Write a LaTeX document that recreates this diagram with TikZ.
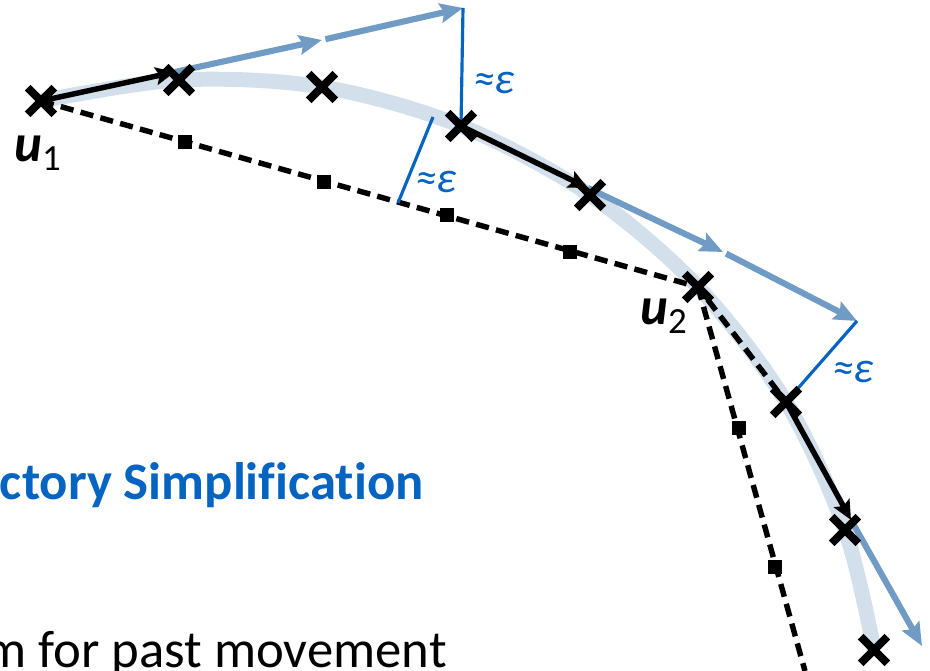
\documentclass[tikz,border=0pt]{standalone}
\usepackage{fontspec}
\setmainfont{Carlito}[Ligatures=NoCommon]
\usetikzlibrary{arrows.meta,shapes.misc}
\definecolor{trackblue}{RGB}{211,223,235}
\definecolor{predblue}{RGB}{112,155,196}
\definecolor{epsblue}{RGB}{5,99,193}
\newcommand{\ptlab}[1]{{\bfseries\itshape u}\textsubscript{#1}}
\tikzset{
  track/.style={draw=trackblue,line width=8.5pt,line cap=butt},
  pt/.style={cross out,draw=black,line width=4.6pt,minimum size=10.5pt,inner sep=0pt},
  sq/.style={rectangle,fill=black,minimum size=8.5pt,inner sep=0pt},
  simp/.style={black,line width=3.1pt,dash pattern=on 7.5pt off 4.2pt},
  move/.style={-{Stealth[length=11pt,width=10pt,inset=2pt]},black,line width=3.1pt},
  pred/.style={-{Stealth[length=13pt,width=11pt,inset=2pt]},predblue,line width=3.5pt},
  dev/.style={epsblue,line width=1.8pt},
  epslbl/.style={text=epsblue,font=\fontsize{25}{30}\selectfont\itshape,inner sep=0pt},
  ulbl/.style={font=\fontsize{30}{32}\selectfont,inner sep=0pt},
  ttl/.style={text=epsblue,font=\fontsize{30}{36}\selectfont\bfseries,inner sep=0pt},
  txt/.style={text=black,font=\fontsize{30}{36}\selectfont,inner sep=0pt},
}
\begin{document}
\begin{tikzpicture}[x=0.02cm,y=-0.02cm]
  \useasboundingbox (0,0) rectangle (930,671);
  % trajectory points
  \coordinate (p1) at (41,101);
  \coordinate (p2) at (179,80);
  \coordinate (p3) at (322,87);
  \coordinate (p4) at (461,126);
  \coordinate (p5) at (590,195);
  \coordinate (p6) at (698,287);
  \coordinate (p7) at (786,402);
  \coordinate (p8) at (845,530);
  \coordinate (p9) at (874,650);
  % predicted positions
  \coordinate (q2) at (175,72);
  \coordinate (a1) at (322,40);
  \coordinate (a2) at (463,8);
  \coordinate (q5) at (588,188);
  \coordinate (b1) at (723,252);
  \coordinate (b2) at (857,321);
  \coordinate (q8) at (851,520);
  \coordinate (c1) at (922,646);
  % simplified line
  \coordinate (d1) at (805,671);
  \coordinate (f1) at (398,203);
  \coordinate (f2) at (433,117);

  \draw[track] plot[smooth,tension=0.55] coordinates {(p1) (p2) (p3) (p4) (p5) (p6) (p7) (p8) (p9)};

  \draw[simp] (p1) -- (p6) -- (p7);
  \draw[simp] (p6) -- (d1);
  \node[sq] (s1) at (185,142) {};
  \node[sq] (s2) at (324,182) {};
  \node[sq] (s3) at (447,215) {};
  \node[sq] (s4) at (570,252) {};
  \node[sq] (s5) at (739,428) {};
  \node[sq] (s6) at (775,567) {};

  \draw[pred] (q2) -- (a1);
  \draw[pred,shorten <=2pt] (a1) -- (a2);
  \draw[pred] (q5) -- (b1);
  \draw[pred,shorten <=2pt] (b1) -- (b2);
  \draw[pred] (q8) -- (c1);

  \draw[dev] (a2) -- (p4);
  \draw[dev] (f1) -- (f2);
  \draw[dev] (b2) -- (p7);

  \foreach \i in {1,...,9}
    \node[pt] (x\i) at (p\i) {};

  \draw[move] (p1) -- (q2);
  \draw[move] (p4) -- (q5);
  \draw[move] (p7) -- (q8);

  \node[epslbl] (e1) at (494,83) {≈ε};
  \node[epslbl] (e2) at (436,182) {≈ε};
  \node[epslbl] (e3) at (853,372) {≈ε};

  \node[ulbl,anchor=base west] (u1) at (14,162) {\ptlab{1}};
  \node[ulbl,anchor=base west] (u2) at (640,325) {\ptlab{2}};

  \node[ttl,anchor=base east] (title) at (424,500) {ctory Simplification};
  \node[txt,anchor=base east] (body) at (447,668) {m for past movement};
\end{tikzpicture}
\end{document}
